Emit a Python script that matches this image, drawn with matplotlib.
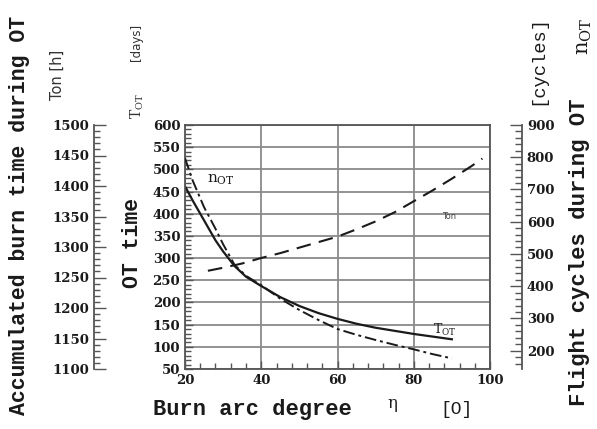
import matplotlib.pyplot as plt
from matplotlib.ticker import MultipleLocator

# burn arc degree [deg]
eta_tot = [20, 22, 25, 28, 30, 33, 36, 40, 45, 50, 55, 60, 65, 70, 75, 80, 85, 90]
# OT time T_OT [days]
t_ot = [462, 430, 385, 340, 315, 282, 258, 237, 212, 192, 176, 163, 152, 143, 136, 129, 123, 117]
# flight cycles during OT n_OT [cycles]
n_ot = [797, 728, 645, 578, 530, 466, 432, 403, 361, 326, 295, 267, 249, 233, 218, 204, 189, 176]

eta_ton = [26, 30, 35, 40, 45, 50, 55, 60, 65, 70, 75, 80, 85, 90, 95, 98]
# accumulated burn time Ton [h]
t_on = [1261, 1266, 1273, 1282, 1290, 1299, 1308, 1317, 1329, 1342, 1357, 1375, 1393, 1412, 1432, 1445]

mono = 'Liberation Mono'
tick_font = 'DejaVu Serif'
ink = '#1a1a1a'
spine_c = '#555555'


def style_ticks(labels):
    for lab in labels:
        lab.set_fontfamily(tick_font)
        lab.set_fontweight('bold')


fig = plt.figure(figsize=(5.97, 4.29), dpi=100)
ax = fig.add_axes([185 / 597, 60 / 429, 305 / 597, 244 / 429])

# main axes: OT time
ax.plot(eta_tot, t_ot, color=ink, lw=1.6)
ax.set_xlim(20, 100)
ax.set_ylim(50, 600)
ax.xaxis.set_major_locator(MultipleLocator(20))
ax.xaxis.set_minor_locator(MultipleLocator(4))
ax.yaxis.set_major_locator(MultipleLocator(50))
ax.yaxis.set_minor_locator(MultipleLocator(10))
ax.grid(True, which='major', color='#8a8a8a', lw=1.3)
ax.tick_params(which='both', direction='in', colors=spine_c, labelcolor=ink,
               labelsize=9.5, right=False, top=False)
ax.tick_params(which='major', length=6, width=1)
ax.tick_params(which='minor', length=4, width=1)
style_ticks(ax.get_xticklabels() + ax.get_yticklabels())
for s in ax.spines.values():
    s.set_color(spine_c)
    s.set_linewidth(1.3)

# left outer axis: accumulated burn time
ax_on = ax.twinx()
ax_on.yaxis.set_label_position('left')
ax_on.yaxis.tick_left()
ax_on.spines['left'].set_position(('outward', 65.5))
ax_on.spines['left'].set_visible(True)
for k in ['right', 'top', 'bottom']:
    ax_on.spines[k].set_visible(False)
ax_on.spines['left'].set_color(spine_c)
ax_on.spines['left'].set_linewidth(1.3)
ax_on.plot(eta_ton, t_on, color=ink, lw=1.5, dashes=(7, 4))
ax_on.set_ylim(1100, 1500)
ax_on.yaxis.set_major_locator(MultipleLocator(50))
ax_on.yaxis.set_minor_locator(MultipleLocator(10))
ax_on.tick_params(axis='y', which='both', direction='in', colors=spine_c,
                  labelcolor=ink, labelsize=9.5)
ax_on.tick_params(axis='y', which='major', length=8.5, width=1)
ax_on.tick_params(axis='y', which='minor', length=4, width=1)
style_ticks(ax_on.get_yticklabels())

# right outer axis: flight cycles
ax_n = ax.twinx()
ax_n.spines['right'].set_position(('outward', 23))
for k in ['left', 'top', 'bottom']:
    ax_n.spines[k].set_visible(False)
ax_n.spines['right'].set_color(spine_c)
ax_n.spines['right'].set_linewidth(1.3)
ax_n.plot(eta_tot, n_ot, color=ink, lw=1.4, dashes=(6, 2, 1.5, 2))
ax_n.set_ylim(143, 900)
ax_n.set_yticks(range(200, 901, 100))
ax_n.yaxis.set_minor_locator(MultipleLocator(20))
ax_n.tick_params(axis='y', which='both', direction='in', colors=spine_c,
                 labelcolor=ink, labelsize=9.5)
ax_n.tick_params(axis='y', which='major', length=9, width=1)
ax_n.tick_params(axis='y', which='minor', length=5, width=1)
style_ticks(ax_n.get_yticklabels())

# curve labels
ax.text(25.8, 476, r'n$_{\mathregular{OT}}$', fontsize=11, family=tick_font,
        color=ink, va='center')
ax.text(87.5, 394, 'Ton', fontsize=6, color='#444444', va='center')
ax.text(85, 138, r'T$_{\mathregular{OT}}$', fontsize=9, family=tick_font,
        color=ink, va='center')

# axis titles
fig.text(20 / 597, 1 - 215 / 429, 'Accumulated burn time during OT', rotation=90,
         ha='center', va='center', family=mono, weight='bold', fontsize=15.5, color=ink)
fig.text(57 / 597, 1 - 75 / 429, 'Ton [h]', rotation=90, ha='center', va='center',
         fontsize=10.5, color='#333333')
fig.text(137 / 597, 1 - 42 / 429, '[days]', rotation=90, ha='center', va='center',
         fontsize=8.5, color='#333333')
fig.text(137 / 597, 1 - 106 / 429, r'T$_{\mathregular{OT}}$', rotation=90,
         ha='center', va='center', fontsize=10, family=tick_font, color='#333333')
fig.text(133 / 597, 1 - 243 / 429, 'OT time', rotation=90, ha='center', va='center',
         family=mono, weight='bold', fontsize=15.5, color=ink)
fig.text(252 / 597, 1 - 410 / 429, 'Burn arc degree', ha='center', va='center',
         family=mono, weight='bold', fontsize=15.8, color=ink)
fig.text(392 / 597, 1 - 404 / 429, 'η', ha='center', va='center',
         fontsize=12, family=tick_font, color=ink)
fig.text(456 / 597, 1 - 410 / 429, '[O]', ha='center', va='center',
         family=mono, fontsize=13, color=ink)
fig.text(538 / 597, 1 - 60 / 429, '[cycles]', rotation=90, ha='center', va='center',
         family=mono, fontsize=13.5, color=ink)
fig.text(580 / 597, 1 - 252 / 429, 'Flight cycles during OT', rotation=90,
         ha='center', va='center', family=mono, weight='bold', fontsize=16, color=ink)
fig.text(585 / 597, 1 - 36 / 429, r'n$_{\mathregular{OT}}$', rotation=90,
         ha='center', va='center', fontsize=15, family=tick_font, color=ink)

fig.savefig('out.png', dpi=100)
